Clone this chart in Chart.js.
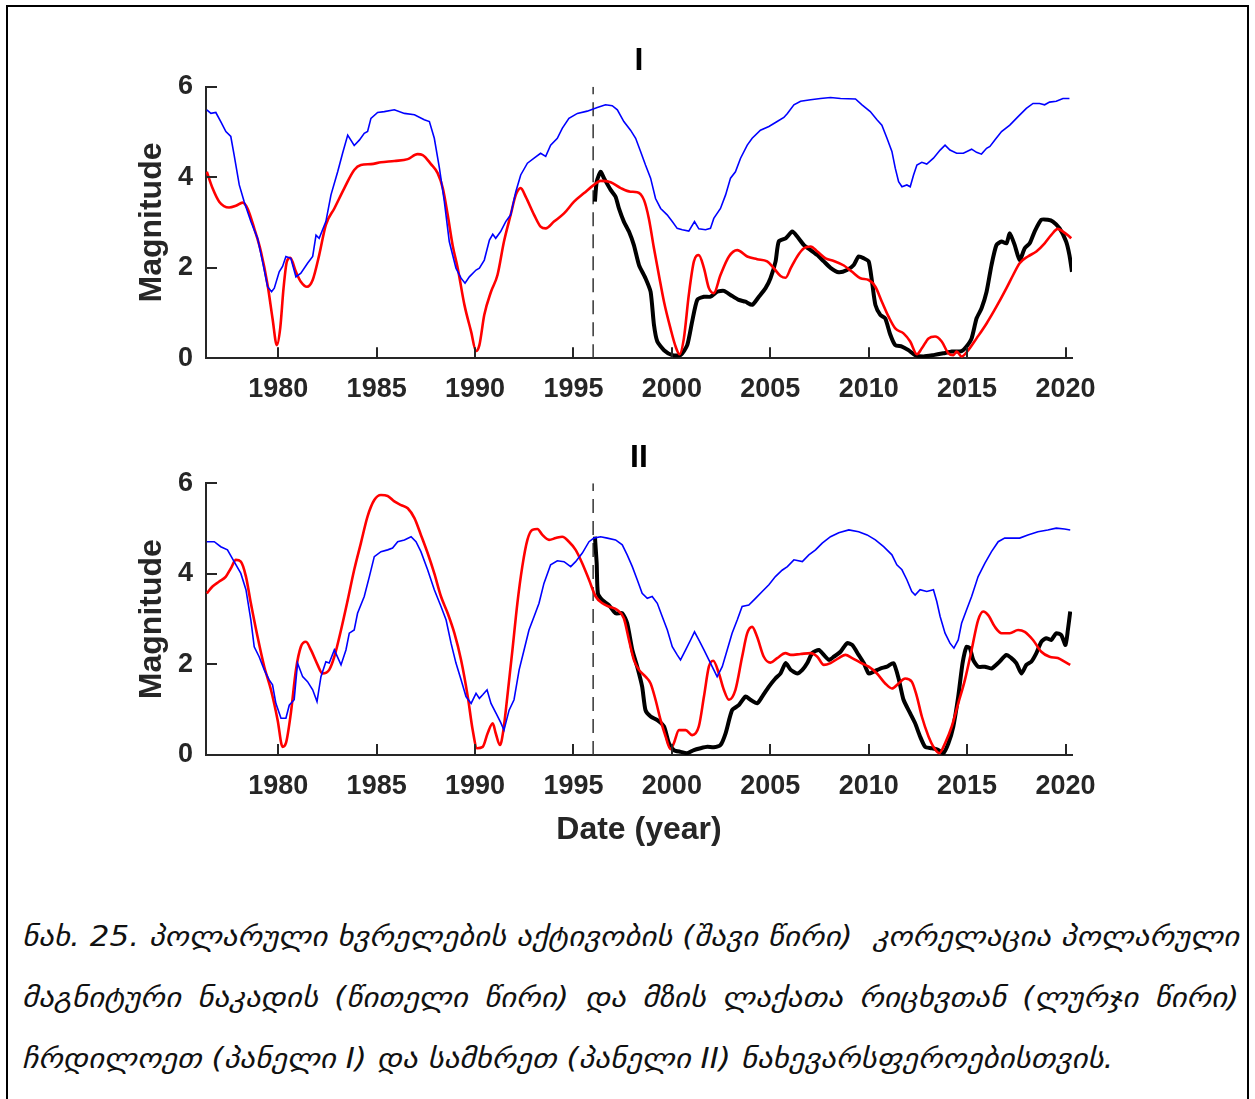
<!DOCTYPE html>
<html>
<head>
<meta charset="utf-8">
<script src="https://cdn.jsdelivr.net/npm/chart.js@4.4.1/dist/chart.umd.min.js"></script>
<style>
  html, body { margin:0; padding:0; background:#fff; overflow:hidden; }
  #frame { position:absolute; left:6px; top:5px; width:1243px; height:1200px; border:2px solid #000; box-sizing:border-box; }
  canvas { position:absolute; left:0; }
  #cap { position:absolute; left:22px; top:906px; font-family:'DejaVu Sans', sans-serif; font-style:italic; font-size:28px; line-height:61px; color:#111; white-space:nowrap; transform-origin:0 0; }
  #cap .j { text-align:justify; text-align-last:justify; }
</style>
</head>
<body>
<div id="frame"></div>
<canvas id="c1" width="1255" height="420" style="top:0px;width:1255px;height:420px"></canvas>
<canvas id="c2" width="1255" height="440" style="top:420px;width:1255px;height:440px"></canvas>
<div id="cap">
  <div class="j" id="l1">ნახ. 25. პოლარული ხვრელების აქტივობის (შავი წირი)&nbsp; კორელაცია პოლარული</div>
  <div class="j" id="l2">მაგნიტური ნაკადის (წითელი წირი) და მზის ლაქათა რიცხვთან (ლურჯი წირი)</div>
  <div id="l3">ჩრდილოეთ (პანელი I) და სამხრეთ (პანელი II) ნახევარსფეროებისთვის.</div>
</div>
<script>
// ---------- tick labels / axis ----------
const xTickYears = [1980, 1985, 1990, 1995, 2000, 2005, 2010, 2015, 2020];
const yTickValues = [0, 2, 4, 6];
const dashYear = 1996;
const panelTitles = ['I', 'II'];

// ---------- Panel I (north) ----------
const nBlueX = [1976.37,1976.58,1976.83,1977.08,1977.34,1977.59,1977.76,1978.02,1978.27,1978.61,1978.95,1979.2,1979.46,1979.66,1979.8,1980.05,1980.22,1980.39,1980.64,1980.9,1981.15,1981.49,1981.75,1981.92,1982.08,1982.42,1982.68,1983.02,1983.27,1983.53,1983.86,1984.12,1984.37,1984.54,1984.71,1985.05,1985.39,1985.9,1986.41,1986.92,1987.42,1987.68,1987.93,1988.19,1988.44,1988.69,1989.03,1989.29,1989.49,1989.71,1990.05,1990.22,1990.47,1990.73,1990.9,1991.05,1991.3,1991.56,1991.81,1992.07,1992.32,1992.66,1993.0,1993.33,1993.59,1993.84,1994.18,1994.43,1994.77,1995.2,1995.7,1996.21,1996.63,1996.97,1997.23,1997.56,1997.9,1998.16,1998.41,1998.66,1998.92,1999.17,1999.43,1999.76,2000.02,2000.27,2000.53,2000.86,2001.15,2001.37,2001.71,2001.96,2002.13,2002.47,2002.73,2002.98,2003.23,2003.49,2003.83,2004.08,2004.5,2004.93,2005.35,2005.69,2005.87,2006.2,2006.54,2007.05,2007.55,2008.06,2008.57,2009.33,2009.66,2010.08,2010.42,2010.67,2010.93,2011.18,2011.35,2011.52,2011.69,2011.94,2012.11,2012.28,2012.45,2012.7,2012.95,2013.29,2013.63,2013.88,2014.13,2014.47,2014.81,2015.23,2015.48,2015.73,2015.99,2016.16,2016.41,2016.75,2017.17,2017.59,2018.01,2018.35,2018.68,2018.94,2019.19,2019.53,2019.87,2020.2];
const nBlueY = [5.49,5.41,5.43,5.23,5.01,4.9,4.49,3.83,3.46,3.02,2.65,2.14,1.58,1.47,1.55,1.91,2.03,2.25,2.21,1.8,1.88,2.10,2.25,2.72,2.65,3.02,3.61,4.12,4.53,4.93,4.70,4.82,4.97,5.01,5.30,5.43,5.45,5.49,5.41,5.38,5.27,5.23,4.86,4.20,3.46,2.58,1.99,1.77,1.66,1.80,1.95,1.99,2.17,2.61,2.74,2.65,2.80,3.02,3.17,3.68,4.05,4.31,4.42,4.53,4.46,4.71,4.86,5.08,5.30,5.41,5.46,5.54,5.60,5.58,5.49,5.23,5.04,4.86,4.57,4.27,3.98,3.53,3.31,3.17,3.02,2.87,2.84,2.81,3.02,2.86,2.84,2.87,3.09,3.31,3.61,3.98,4.12,4.42,4.71,4.86,5.04,5.12,5.23,5.32,5.41,5.60,5.68,5.71,5.74,5.76,5.74,5.73,5.60,5.45,5.27,5.15,4.86,4.57,4.20,3.90,3.79,3.83,3.79,4.05,4.27,4.33,4.29,4.42,4.60,4.71,4.60,4.53,4.53,4.62,4.55,4.51,4.64,4.68,4.82,5.01,5.15,5.34,5.52,5.63,5.63,5.60,5.66,5.68,5.74,5.74];
const nRedX = [1976.37,1976.66,1977.0,1977.5,1977.85,1978.19,1978.44,1978.78,1979.12,1979.46,1979.71,1979.93,1980.1,1980.27,1980.44,1980.61,1980.9,1981.15,1981.46,1981.75,1982.08,1982.42,1982.85,1983.36,1983.86,1984.2,1984.71,1985.22,1985.9,1986.58,1987.08,1987.34,1987.76,1988.1,1988.36,1988.61,1988.86,1989.12,1989.46,1989.8,1990.05,1990.22,1990.47,1990.81,1991.14,1991.47,1991.81,1992.07,1992.32,1992.57,1993.0,1993.33,1993.59,1994.01,1994.52,1995.03,1995.54,1996.04,1996.38,1996.89,1997.4,1997.9,1998.24,1998.58,1998.83,1999.09,1999.34,1999.6,1999.93,2000.19,2000.39,2000.61,2000.86,2001.12,2001.37,2001.63,2001.88,2002.13,2002.47,2002.9,2003.32,2003.83,2004.33,2004.84,2005.18,2005.52,2005.78,2006.04,2006.37,2006.71,2007.05,2007.39,2007.81,2008.23,2008.74,2009.16,2009.58,2010.0,2010.34,2010.67,2011.01,2011.35,2011.77,2012.11,2012.45,2012.7,2013.04,2013.37,2013.71,2014.05,2014.3,2014.47,2014.72,2015.06,2015.48,2015.99,2016.49,2017.0,2017.34,2017.67,2018.09,2018.52,2018.94,2019.27,2019.61,2019.87,2020.12,2020.29];
const nRedY = [4.12,3.76,3.46,3.33,3.37,3.44,3.31,2.87,2.36,1.62,0.88,0.29,0.66,1.55,2.14,2.22,1.91,1.69,1.58,1.73,2.28,2.95,3.31,3.76,4.16,4.27,4.29,4.33,4.36,4.40,4.51,4.49,4.29,4.09,3.76,3.17,2.50,1.99,1.18,0.59,0.16,0.29,0.96,1.47,1.84,2.58,3.17,3.61,3.76,3.57,3.17,2.91,2.87,3.02,3.20,3.46,3.65,3.83,3.92,3.89,3.76,3.68,3.67,3.50,3.09,2.43,1.84,1.25,0.66,0.26,0.09,0.44,1.40,2.14,2.28,1.99,1.55,1.44,1.84,2.25,2.39,2.25,2.19,2.14,1.99,1.82,1.78,1.99,2.25,2.43,2.47,2.36,2.21,2.15,2.05,1.91,1.77,1.73,1.58,1.25,0.92,0.66,0.55,0.37,0.09,0.22,0.44,0.48,0.37,0.11,0.07,0.15,0.04,0.18,0.44,0.77,1.14,1.55,1.84,2.10,2.25,2.36,2.54,2.72,2.86,2.80,2.72,2.65];
const nBlackX = [1996.09,1996.18,1996.38,1996.55,1996.89,1997.14,1997.31,1997.56,1997.82,1998.07,1998.33,1998.66,1998.92,1999.09,1999.26,1999.6,2000.02,2000.44,2000.78,2001.03,2001.29,2001.63,2001.96,2002.3,2002.64,2002.98,2003.4,2003.74,2004.08,2004.42,2004.76,2005.01,2005.27,2005.43,2005.78,2006.12,2006.37,2006.71,2007.05,2007.39,2007.72,2008.06,2008.48,2008.9,2009.24,2009.49,2009.75,2010.0,2010.17,2010.34,2010.59,2010.84,2011.1,2011.35,2011.69,2012.02,2012.36,2012.78,2013.29,2013.79,2014.22,2014.72,2014.97,2015.23,2015.48,2015.73,2015.99,2016.24,2016.49,2016.75,2017.0,2017.17,2017.42,2017.67,2017.93,2018.18,2018.43,2018.77,2019.1,2019.36,2019.7,2020.03,2020.2,2020.33];
const nBlackY = [3.46,3.90,4.12,3.98,3.72,3.57,3.31,3.02,2.80,2.50,2.06,1.77,1.47,0.74,0.37,0.18,0.07,0.07,0.29,0.81,1.29,1.36,1.36,1.47,1.49,1.40,1.29,1.25,1.18,1.36,1.55,1.77,2.14,2.58,2.65,2.80,2.69,2.50,2.39,2.28,2.14,2.00,1.90,1.95,2.06,2.25,2.21,2.14,1.69,1.18,0.96,0.88,0.52,0.29,0.26,0.18,0.07,0.04,0.07,0.11,0.15,0.16,0.26,0.44,0.88,1.10,1.47,2.06,2.50,2.58,2.54,2.76,2.50,2.17,2.43,2.54,2.80,3.06,3.06,3.02,2.87,2.58,2.28,1.91];

// ---------- Panel II (south) ----------
const sBlueX = [1976.37,1976.75,1977.08,1977.42,1977.76,1978.1,1978.36,1978.61,1978.78,1979.03,1979.29,1979.54,1979.71,1979.88,1980.14,1980.39,1980.56,1980.81,1980.98,1981.24,1981.49,1981.75,1981.97,1982.17,1982.42,1982.59,1982.85,1983.19,1983.44,1983.61,1983.86,1984.03,1984.37,1984.63,1984.88,1985.22,1985.56,1985.81,1986.07,1986.41,1986.75,1987.0,1987.25,1987.59,1987.93,1988.27,1988.53,1988.78,1989.03,1989.29,1989.54,1989.8,1990.05,1990.22,1990.39,1990.61,1990.81,1991.07,1991.3,1991.47,1991.73,1991.98,1992.24,1992.49,1992.74,1993.0,1993.25,1993.5,1993.84,1994.18,1994.52,1994.86,1995.11,1995.45,1995.79,1996.04,1996.38,1996.72,1997.14,1997.48,1997.73,1997.99,1998.24,1998.49,1998.75,1999.0,1999.26,1999.51,1999.77,2000.02,2000.27,2000.44,2000.7,2000.95,2001.15,2001.37,2001.63,2001.88,2002.13,2002.3,2002.56,2002.81,2003.06,2003.32,2003.57,2003.91,2004.25,2004.59,2004.93,2005.26,2005.6,2005.87,2006.2,2006.63,2006.96,2007.3,2007.64,2008.06,2008.48,2008.99,2009.49,2009.92,2010.34,2010.76,2011.18,2011.43,2011.69,2011.94,2012.19,2012.36,2012.61,2012.95,2013.29,2013.46,2013.63,2013.88,2014.13,2014.33,2014.55,2014.72,2014.97,2015.23,2015.56,2015.9,2016.24,2016.58,2016.91,2017.34,2017.67,2018.09,2018.6,2019.1,2019.53,2019.95,2020.24];
const sBlueY = [4.71,4.71,4.60,4.53,4.27,4.01,3.65,2.98,2.39,2.17,1.88,1.66,1.55,1.14,0.81,0.81,1.10,1.22,2.03,1.73,1.62,1.44,1.18,1.73,2.06,2.03,2.32,1.99,2.32,2.69,2.76,3.13,3.50,3.94,4.38,4.49,4.53,4.57,4.71,4.75,4.82,4.71,4.49,4.09,3.65,3.28,2.98,2.47,2.03,1.66,1.29,1.14,1.36,1.25,1.33,1.44,1.14,0.92,0.72,0.55,0.99,1.22,1.88,2.32,2.76,3.06,3.35,3.79,4.20,4.29,4.27,4.16,4.27,4.46,4.71,4.79,4.82,4.79,4.75,4.64,4.42,4.16,3.87,3.57,3.46,3.50,3.35,3.06,2.76,2.39,2.21,2.10,2.32,2.54,2.72,2.54,2.32,2.10,1.88,1.73,1.95,2.32,2.69,2.98,3.28,3.31,3.46,3.61,3.76,3.94,4.08,4.16,4.31,4.27,4.42,4.53,4.68,4.82,4.91,4.97,4.93,4.86,4.75,4.60,4.42,4.20,4.09,3.87,3.61,3.53,3.65,3.61,3.65,3.39,3.06,2.69,2.47,2.36,2.54,2.91,3.20,3.50,3.94,4.23,4.49,4.71,4.79,4.79,4.79,4.86,4.93,4.97,5.01,4.99,4.97];
const sRedX = [1976.37,1976.66,1977.0,1977.34,1977.59,1977.85,1978.1,1978.36,1978.61,1978.95,1979.29,1979.63,1979.97,1980.22,1980.39,1980.64,1980.9,1981.15,1981.41,1981.66,1982.0,1982.25,1982.59,1982.85,1983.19,1983.53,1983.86,1984.2,1984.54,1984.88,1985.22,1985.56,1985.9,1986.24,1986.58,1986.92,1987.25,1987.59,1987.93,1988.27,1988.61,1988.95,1989.29,1989.63,1989.88,1990.1,1990.39,1990.64,1990.9,1991.05,1991.27,1991.44,1991.64,1991.9,1992.15,1992.4,1992.66,1992.91,1993.17,1993.42,1993.76,1994.1,1994.43,1994.77,1995.11,1995.45,1995.79,1996.13,1996.47,1996.8,1997.23,1997.56,1997.82,1998.07,1998.33,1998.66,1998.92,1999.17,1999.43,1999.68,1999.93,2000.1,2000.36,2000.7,2001.03,2001.37,2001.63,2001.88,2002.1,2002.39,2002.64,2002.9,2003.23,2003.57,2003.83,2004.08,2004.33,2004.67,2005.01,2005.35,2005.77,2006.04,2006.54,2007.05,2007.39,2007.72,2008.06,2008.48,2008.82,2009.16,2009.58,2010.0,2010.42,2010.84,2011.18,2011.52,2011.85,2012.19,2012.45,2012.7,2013.04,2013.29,2013.59,2013.88,2014.22,2014.55,2014.89,2015.23,2015.56,2015.82,2016.07,2016.41,2016.75,2017.17,2017.59,2017.93,2018.35,2018.77,2019.19,2019.61,2019.95,2020.24];
const sRedY = [3.57,3.72,3.83,3.94,4.12,4.31,4.27,3.94,3.35,2.61,1.95,1.44,0.77,0.18,0.26,0.92,1.88,2.39,2.50,2.32,1.99,1.80,1.88,2.17,2.76,3.42,4.09,4.68,5.27,5.63,5.74,5.72,5.60,5.52,5.45,5.23,4.86,4.46,4.01,3.50,3.13,2.69,2.10,1.29,0.55,0.15,0.18,0.48,0.70,0.48,0.22,0.55,1.29,2.32,3.35,4.16,4.75,4.97,4.99,4.86,4.75,4.79,4.82,4.71,4.53,4.23,3.87,3.50,3.35,3.28,3.20,3.02,2.54,2.10,1.88,1.73,1.58,1.22,0.77,0.41,0.13,0.26,0.55,0.55,0.44,0.63,1.29,1.95,2.08,1.80,1.44,1.22,1.44,2.17,2.69,2.83,2.61,2.17,2.04,2.14,2.25,2.21,2.23,2.25,2.17,1.99,2.03,2.14,2.21,2.14,2.04,1.95,1.80,1.58,1.47,1.58,1.69,1.62,1.29,0.85,0.41,0.18,0.04,0.26,0.63,1.14,1.66,2.32,2.98,3.17,3.09,2.83,2.69,2.69,2.76,2.72,2.54,2.28,2.17,2.14,2.06,1.99];
const sBlackX = [1996.09,1996.18,1996.24,1996.47,1996.8,1997.14,1997.48,1997.73,1997.99,1998.24,1998.49,1998.66,1998.92,1999.26,1999.6,1999.85,2000.1,2000.44,2000.78,2001.12,2001.46,2001.8,2002.13,2002.47,2002.73,2003.06,2003.4,2003.74,2003.99,2004.33,2004.59,2004.93,2005.26,2005.52,2005.78,2006.04,2006.37,2006.63,2006.88,2007.13,2007.47,2007.72,2007.98,2008.23,2008.57,2008.9,2009.16,2009.49,2009.75,2010.0,2010.25,2010.59,2010.93,2011.26,2011.52,2011.77,2012.11,2012.36,2012.61,2012.87,2013.2,2013.54,2013.79,2014.05,2014.3,2014.55,2014.77,2014.97,2015.14,2015.31,2015.56,2015.9,2016.24,2016.58,2017.0,2017.25,2017.5,2017.76,2018.01,2018.26,2018.52,2018.77,2019.02,2019.27,2019.53,2019.78,2020.0,2020.12,2020.24];
const sBlackY = [4.82,4.23,3.57,3.42,3.31,3.13,3.13,2.91,2.32,1.95,1.51,0.99,0.85,0.77,0.63,0.26,0.11,0.07,0.04,0.11,0.15,0.18,0.17,0.22,0.48,0.99,1.10,1.29,1.22,1.14,1.29,1.51,1.69,1.80,2.03,1.88,1.80,1.88,2.03,2.25,2.32,2.21,2.10,2.17,2.28,2.47,2.43,2.21,2.03,1.80,1.84,1.91,1.95,2.03,1.69,1.22,0.92,0.70,0.41,0.18,0.15,0.11,0.04,0.26,0.63,1.29,2.03,2.39,2.36,2.10,1.95,1.95,1.91,2.03,2.21,2.14,2.03,1.80,1.99,2.06,2.25,2.50,2.58,2.54,2.69,2.65,2.43,2.76,3.17];

// ---------- styling ----------
const AXIS = '#262626';
const TICK_FONT = {family: "'Liberation Sans', Arial, sans-serif", size: 27, weight: 'bold'};
const TITLE_FONT = {family: "'Liberation Sans', Arial, sans-serif", size: 32, weight: 'bold'};

function pts(xs, ys) { return xs.map((x, i) => ({x: x, y: ys[i]})); }

const inwardTicks = {
  id: 'inwardTicks',
  afterDatasetsDraw(chart) {
    const {ctx, chartArea, scales} = chart;
    ctx.save();
    ctx.strokeStyle = AXIS; ctx.lineWidth = 2;
    ctx.beginPath();
    scales.x.ticks.forEach(t => {
      const px = Math.round(scales.x.getPixelForValue(t.value));
      ctx.moveTo(px, chartArea.bottom); ctx.lineTo(px, chartArea.bottom - 11);
    });
    scales.y.ticks.forEach(t => {
      const py = Math.round(scales.y.getPixelForValue(t.value));
      ctx.moveTo(chartArea.left, py); ctx.lineTo(chartArea.left + 11, py);
    });
    ctx.stroke();
    ctx.restore();
  }
};

function makeChart(canvasId, cfg) {
  const datasets = [
    {label: 'sunspots', data: pts(cfg.bx, cfg.by), borderColor: '#0000ff', borderWidth: 1.6, tension: 0, order: 1},
    {label: 'flux', data: pts(cfg.rx, cfg.ry), borderColor: '#ff0000', borderWidth: 2.6, cubicInterpolationMode: 'monotone', order: 2},
    {label: 'holes', data: pts(cfg.kx, cfg.ky), borderColor: '#000000', borderWidth: 4, tension: 0.2, order: 3},
    {label: 'split', data: [{x: dashYear, y: 0}, {x: dashYear, y: 6}], borderColor: '#333333', borderWidth: 1.5, borderDash: [14, 8], order: 4}
  ];
  datasets.forEach(d => { d.pointRadius = 0; d.fill = false; });
  return new Chart(document.getElementById(canvasId), {
    type: 'line',
    data: {datasets},
    plugins: [inwardTicks],
    options: {
      responsive: false, animation: false, devicePixelRatio: 1,
      layout: {padding: {left: 0, right: 183, top: 0, bottom: 0}},
      plugins: {
        legend: {display: false}, tooltip: {enabled: false},
        title: {display: true, text: cfg.title, fullSize: false, color: '#000',
                font: {family: "'Liberation Sans', Arial, sans-serif", size: 32, weight: 'bold'},
                padding: {top: cfg.titleTop, bottom: cfg.titleBottom}}
      },
      scales: {
        x: {
          type: 'linear', min: 1976.33, max: 2020.33,
          afterBuildTicks: s => { s.ticks = xTickYears.map(v => ({value: v})); },
          afterFit: s => { s.height = cfg.xHeight; },
          grid: {display: false, drawTicks: false},
          border: {display: true, color: AXIS, width: 2},
          ticks: {color: AXIS, font: TICK_FONT, padding: 15, maxRotation: 0, autoSkip: false,
                  callback: v => String(v)},
          title: {display: cfg.xTitle !== '', text: cfg.xTitle, color: AXIS, font: TITLE_FONT,
                  padding: {top: 0, bottom: 11}}
        },
        y: {
          type: 'linear', min: 0, max: 6,
          afterBuildTicks: s => { s.ticks = yTickValues.map(v => ({value: v})); },
          afterFit: s => { s.width = 206; },
          grid: {display: false, drawTicks: false},
          border: {display: true, color: AXIS, width: 2},
          ticks: {color: AXIS, font: TICK_FONT, padding: 13},
          title: {display: true, text: 'Magnitude', color: AXIS, font: TITLE_FONT,
                  padding: {top: 133, bottom: 0}}
        }
      }
    }
  });
}

makeChart('c1', {bx: nBlueX, by: nBlueY, rx: nRedX, ry: nRedY, kx: nBlackX, ky: nBlackY,
  title: panelTitles[0], titleTop: 42, titleBottom: 6.3, xHeight: 61.7, xTitle: ''});
makeChart('c2', {bx: sBlueX, by: sBlueY, rx: sRedX, ry: sRedY, kx: sBlackX, ky: sBlackY,
  title: panelTitles[1], titleTop: 19, titleBottom: 5.9, xHeight: 105, xTitle: 'Date (year)'});

// caption fitting
(function fitCaption() {
  const cap = document.getElementById('cap');
  const l1 = document.getElementById('l1');
  const probe = document.createElement('span');
  probe.innerHTML = l1.innerHTML;
  probe.style.whiteSpace = 'nowrap';
  cap.appendChild(probe);
  const w = probe.getBoundingClientRect().width;
  cap.removeChild(probe);
  const target = 1216;
  const s = target / w;
  cap.style.transform = 'scaleX(' + s + ')';
  cap.style.width = (w + 1) + 'px';
  document.querySelectorAll('#cap .j').forEach(el => { el.style.width = (w + 1) + 'px'; });
})();
</script>
</body>
</html>
